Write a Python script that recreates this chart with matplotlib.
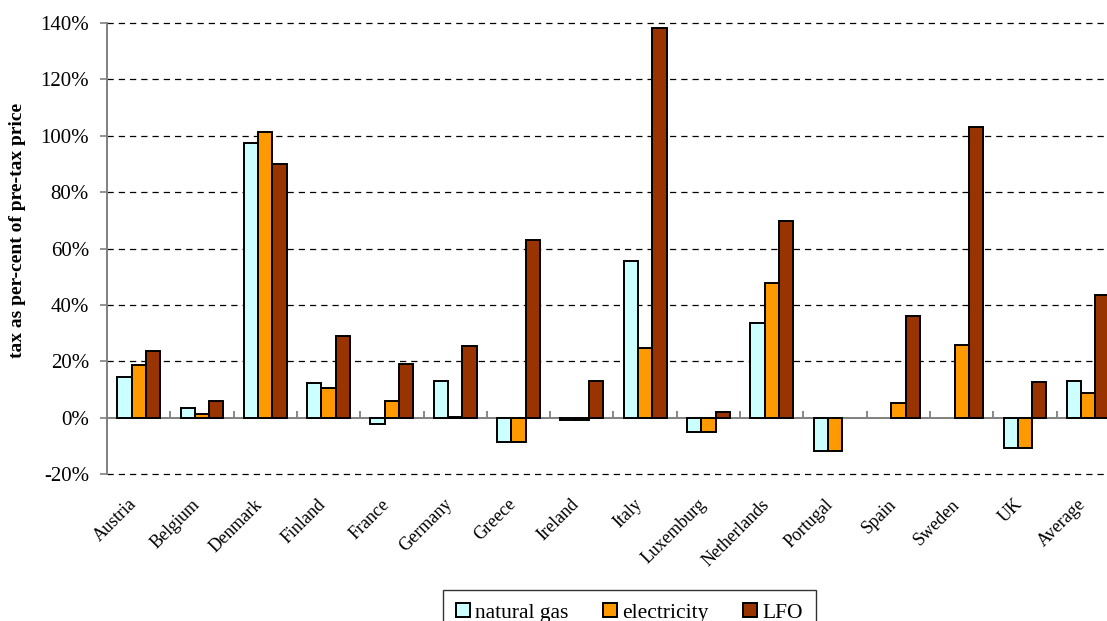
import numpy as np
import matplotlib
matplotlib.use("Agg")
import matplotlib.pyplot as plt
from matplotlib.ticker import FixedLocator, FuncFormatter
from matplotlib.transforms import ScaledTranslation

nan = np.nan
countries = ["Austria", "Belgium", "Denmark", "Finland", "France", "Germany",
             "Greece", "Ireland", "Italy", "Luxemburg", "Netherlands",
             "Portugal", "Spain", "Sweden", "UK", "Average"]
natural_gas = [14.4, 3.3, 97.5, 12.2, -2.2, 13.0, -8.5, -0.8, 55.7, -5.2,
               33.7, -11.7, nan, nan, -10.6, 13.1]
electricity = [18.5, 1.2, 101.4, 10.4, 5.9, 0.2, -8.5, -0.8, 24.8, -5.2,
               47.9, -11.7, 5.2, 25.9, -10.6, 8.7]
lfo = [23.7, 5.9, 90.0, 29.0, 19.1, 25.5, 63.1, 13.1, 138.2, 2.0,
       69.8, nan, 36.2, 103.2, 12.7, 43.6]
series_names = ["natural gas", "electricity", "LFO"]
series_colors = ["#CCFFFF", "#FF9900", "#993300"]
y_ticks = [-20, 0, 20, 40, 60, 80, 100, 120, 140]

plt.rcParams["font.family"] = ["Liberation Serif", "DejaVu Serif"]

fig = plt.figure(figsize=(11.07, 6.21), dpi=100)
ax = fig.add_axes([107 / 1107, 1 - 474 / 621, 1013 / 1107, 451 / 621])

x = np.arange(len(countries))
width = 0.226
for i, (vals, name, col) in enumerate(zip([natural_gas, electricity, lfo],
                                          series_names, series_colors)):
    ax.bar(x + (i - 1) * width, vals, width, color=col, edgecolor="black",
           linewidth=1.4, label=name, zorder=3)

ax.set_xlim(-0.5, len(countries) - 0.5)
ax.set_ylim(-20, 140)

# horizontal dashed gridlines
for t in y_ticks:
    if t != 0:
        ax.axhline(t, color="black", linewidth=0.9, linestyle=(0, (5, 4)),
                   zorder=1, clip_on=False)
ax.axhline(0, color="#808080", linewidth=1.4, zorder=2)

# category separators standing on the zero line
boundaries = np.arange(len(countries) + 1) - 0.5
ax.vlines(boundaries, 0, 2.2, color="#808080", linewidth=1.3, zorder=2,
          clip_on=False)

ax.yaxis.set_major_locator(FixedLocator(y_ticks))
ax.yaxis.set_major_formatter(FuncFormatter(lambda v, p: f"{int(v)}%"))
ax.tick_params(axis="y", direction="out", length=5, width=1.2, color="#808080",
               labelsize=15, pad=8)

ax.set_xticks(x)
ax.set_xticklabels(countries, rotation=45, ha="right", va="center",
                   rotation_mode="anchor", fontsize=13)
ax.tick_params(axis="x", length=0, pad=20)
shift = ScaledTranslation(-5 / 100, 0, fig.dpi_scale_trans)
for lbl in ax.get_xticklabels():
    lbl.set_transform(lbl.get_transform() + shift)

for s in ["top", "right", "bottom"]:
    ax.spines[s].set_visible(False)
ax.spines["left"].set_color("#808080")
ax.spines["left"].set_linewidth(1.4)

fig.text(18 / 1107, 1 - 230 / 621, "tax as per-cent of pre-tax price",
         rotation=90, ha="center", va="center", fontsize=14, fontweight="bold")

leg = fig.legend(loc="upper left", bbox_to_anchor=(443 / 1107, 1 - 590 / 621),
                 ncol=3, fontsize=15.5, frameon=True, fancybox=False,
                 edgecolor="black", handlelength=0.65, handleheight=0.65,
                 handletextpad=0.25, columnspacing=1.6, borderpad=0.6,
                 borderaxespad=0)
leg.get_frame().set_linewidth(1.0)

fig.savefig("out.png", dpi=100)
